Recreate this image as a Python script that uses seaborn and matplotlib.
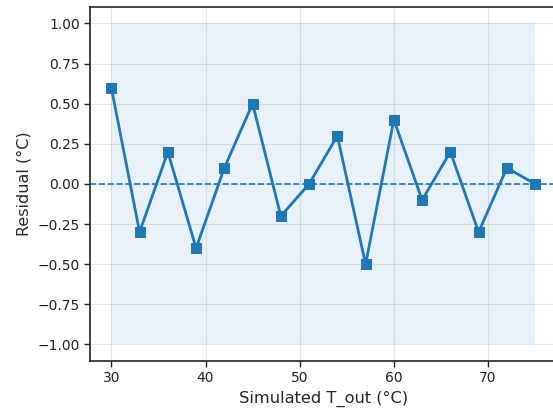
import matplotlib
matplotlib.use("Agg")
import matplotlib.pyplot as plt
import seaborn as sns
import pandas as pd

t_out = [30, 33, 36, 39, 42, 45, 48, 51, 54, 57, 60, 63, 66, 69, 72, 75]
residual = [0.6, -0.3, 0.2, -0.4, 0.1, 0.5, -0.2, 0.0, 0.3, -0.5, 0.4, -0.1, 0.2, -0.3, 0.1, 0.0]
band_lo, band_hi = -1.0, 1.0

df = pd.DataFrame({"t": t_out, "r": residual})

sns.set_style("ticks")
plt.rcParams["font.family"] = ["DejaVu Sans"]
fig = plt.figure(figsize=(5.53, 4.12), dpi=100)
ax = fig.add_axes([0.163, 0.125, 0.843, 0.857])

ax.fill_between([min(t_out), max(t_out)], band_lo, band_hi, color="#1f77b4", alpha=0.1, linewidth=0)
ax.grid(True, color="#b0b0b0", alpha=0.3, linewidth=0.8)
ax.axhline(0, color="#1f77b4", linestyle="--", linewidth=1.2)
sns.lineplot(data=df, x="t", y="r", marker="s", markersize=6.5, color="#1f77b4",
             linewidth=2, markeredgecolor="#1f77b4", ax=ax)

ax.set_xlim(27.75, 77.25)
ax.set_ylim(-1.1, 1.1)
ax.set_yticks([-1.0, -0.75, -0.5, -0.25, 0.0, 0.25, 0.5, 0.75, 1.0])
ax.set_xticks([30, 40, 50, 60, 70])
ax.set_xlabel("Simulated T_out (°C)", fontsize=11.7)
ax.set_ylabel("Residual (°C)", fontsize=11.5)
for s in ax.spines.values():
    s.set_color("#222222")
    s.set_linewidth(1.2)
ax.tick_params(colors="#222222", labelsize=10, width=1.0, length=4)

fig.savefig("out.png", dpi=100)
